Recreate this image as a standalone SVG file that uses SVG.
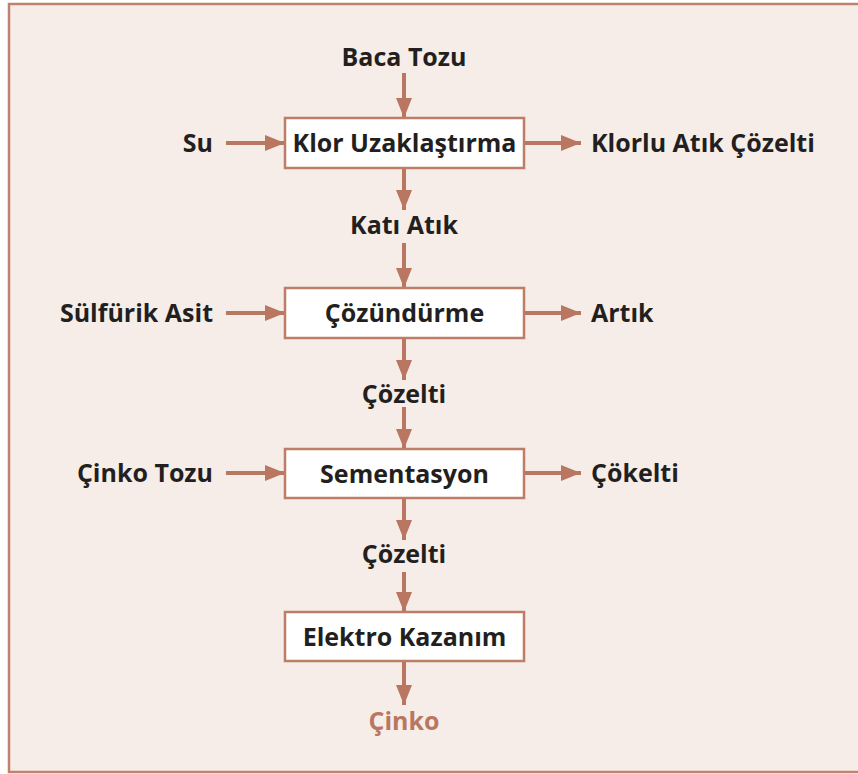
<svg xmlns="http://www.w3.org/2000/svg" width="858" height="774" viewBox="0 0 858 774">
<defs>
<style>
.t{font-family:"Open Sans","Noto Sans","Liberation Sans",sans-serif;font-weight:700;font-size:25px;fill:#231f20}
.c{text-anchor:middle}
.r{text-anchor:end}
.box{fill:#ffffff;stroke:#bd7d66;stroke-width:2.5}
.ln{stroke:#b97761;stroke-width:4;fill:none}
</style>
<marker id="ah" viewBox="0 0 20 16" refX="20" refY="8" markerWidth="20" markerHeight="16" markerUnits="userSpaceOnUse" orient="auto">
<path d="M0,0 L20,8 L0,16 Z" fill="#b97761"/>
</marker>
</defs>
<rect x="9" y="4" width="900" height="768" fill="#f6ede8" stroke="#c0826c" stroke-width="2.5"/>
<g id="connectors">
<line class="ln" x1="404" y1="73" x2="404" y2="118" marker-end="url(#ah)"/>
<line class="ln" x1="226" y1="143" x2="285" y2="143" marker-end="url(#ah)"/>
<line class="ln" x1="524" y1="143" x2="581" y2="143" marker-end="url(#ah)"/>
<line class="ln" x1="404" y1="168" x2="404" y2="210" marker-end="url(#ah)"/>
<line class="ln" x1="404" y1="243" x2="404" y2="288" marker-end="url(#ah)"/>
<line class="ln" x1="226" y1="313" x2="285" y2="313" marker-end="url(#ah)"/>
<line class="ln" x1="524" y1="313" x2="581" y2="313" marker-end="url(#ah)"/>
<line class="ln" x1="404" y1="338" x2="404" y2="380" marker-end="url(#ah)"/>
<line class="ln" x1="404" y1="407" x2="404" y2="449" marker-end="url(#ah)"/>
<line class="ln" x1="226" y1="473" x2="285" y2="473" marker-end="url(#ah)"/>
<line class="ln" x1="524" y1="473" x2="581" y2="473" marker-end="url(#ah)"/>
<line class="ln" x1="404" y1="498" x2="404" y2="540" marker-end="url(#ah)"/>
<line class="ln" x1="404" y1="572" x2="404" y2="612" marker-end="url(#ah)"/>
<line class="ln" x1="404" y1="661" x2="404" y2="705" marker-end="url(#ah)"/>
</g>
<g id="baca-tozu"><text class="t c" x="404" y="66">Baca Tozu</text></g>
<g id="su"><text class="t r" x="213" y="152">Su</text></g>
<g id="klor-uzaklastirma"><rect class="box" x="285" y="118" width="239" height="50"/><text class="t c" x="404.5" y="152">Klor Uzaklaştırma</text></g>
<g id="klorlu-atik"><text class="t" x="591" y="152">Klorlu Atık Çözelti</text></g>
<g id="kati-atik"><text class="t c" x="404" y="234">Katı Atık</text></g>
<g id="sulfurik-asit"><text class="t r" x="213" y="322">Sülfürik Asit</text></g>
<g id="cozundurme"><rect class="box" x="285" y="288" width="239" height="50"/><text class="t c" x="404.5" y="322">Çözündürme</text></g>
<g id="artik"><text class="t" x="591" y="322">Artık</text></g>
<g id="cozelti1"><text class="t c" x="404" y="403">Çözelti</text></g>
<g id="cinko-tozu"><text class="t r" x="213" y="482">Çinko Tozu</text></g>
<g id="sementasyon"><rect class="box" x="285" y="449" width="239" height="49"/><text class="t c" x="404.5" y="483">Sementasyon</text></g>
<g id="cokelti"><text class="t" x="591" y="482">Çökelti</text></g>
<g id="cozelti2"><text class="t c" x="404" y="563">Çözelti</text></g>
<g id="elektro-kazanim"><rect class="box" x="285" y="612" width="239" height="49"/><text class="t c" x="404.5" y="646">Elektro Kazanım</text></g>
<g id="cinko"><text class="t c" x="404" y="730" style="fill:#b97761">Çinko</text></g>
</svg>
